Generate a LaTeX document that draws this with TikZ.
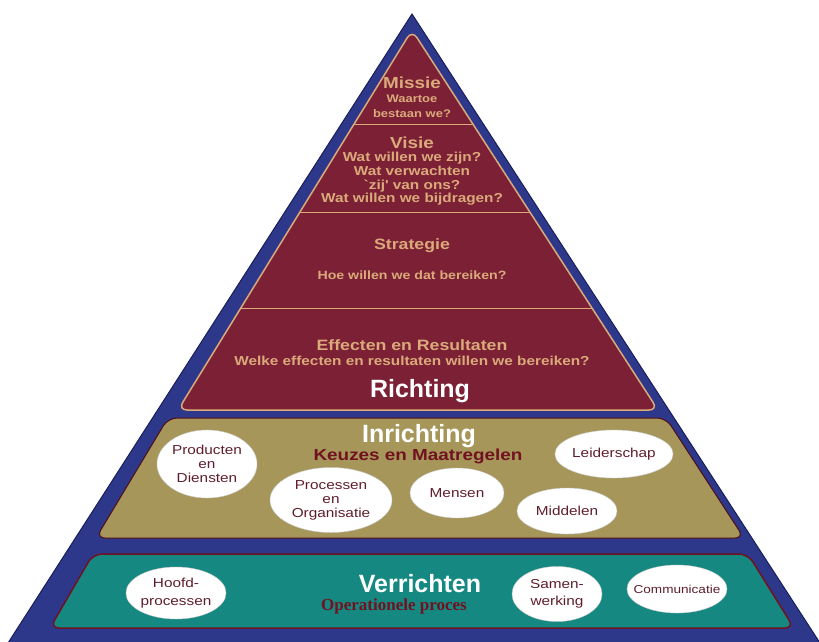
\documentclass[tikz,border=0pt]{standalone}
\usepackage{fontspec}
\setmainfont{Liberation Sans}
\newfontfamily\widesans[FakeStretch=1.18]{Liberation Sans}
\newfontfamily\procesfont{Liberation Serif}
\usetikzlibrary{shapes.geometric}

\definecolor{pyrblue}{RGB}{46,56,138}
\definecolor{pyredge}{RGB}{24,30,88}
\definecolor{richtingred}{RGB}{124,32,54}
\definecolor{tanline}{RGB}{218,170,122}
\definecolor{inrichtingtan}{RGB}{166,150,90}
\definecolor{verrichtenteal}{RGB}{22,136,130}
\definecolor{darkred}{RGB}{112,18,32}
\definecolor{bubbletext}{RGB}{95,30,45}

\begin{document}
\begin{tikzpicture}[x=1pt, y=-1pt,
    layer/.style={rounded corners=9pt, line width=1.5pt},
    head/.style={text=white, font=\bfseries\fontsize{25}{28}\selectfont},
    title/.style={text=tanline, font=\widesans\bfseries\fontsize{15}{17}\selectfont},
    question/.style={text=tanline, font=\widesans\bfseries\fontsize{13}{13.7}\selectfont,
        align=center},
    sub/.style={text=darkred, font=\widesans\bfseries\fontsize{16}{18}\selectfont},
    bubble/.style={ellipse, fill=white, draw=white!80!black, thin,
        text=bubbletext, font=\widesans\fontsize{13}{14}\selectfont,
        align=center, inner sep=0pt}
]
    \useasboundingbox (0,0) rectangle (819,641);
    % outer pyramid
    \filldraw[pyrblue, draw=pyredge, line width=1pt]
        (412,14) -- (820,643) -- (8,643) -- cycle;
    % Richting
    \filldraw[layer, fill=richtingred, draw=tanline]
        (412,30) -- (658,410) -- (178,410) -- cycle;
    \draw[tanline, thick] (354,124) -- (473,124);
    \draw[tanline, thick] (300,212) -- (530,212);
    \draw[tanline, thick] (241,308) -- (592,308);
    % Inrichting
    \filldraw[layer, fill=inrichtingtan, draw=darkred!70!black, line width=1pt]
        (168,418) -- (666,418) -- (744,538) -- (96,538) -- cycle;
    % Verrichten
    \filldraw[layer, fill=verrichtenteal, draw=darkred]
        (93,554) -- (748,554) -- (794,628) -- (50,628) -- cycle;

    \node[title, font=\widesans\bfseries\fontsize{16}{17}\selectfont]
        (missie) at (412,83) {Missie};
    \node[question, font=\widesans\bfseries\fontsize{11}{15}\selectfont]
        (missieq) at (412,106) {Waartoe\\bestaan we?};
    \node[title, font=\widesans\bfseries\fontsize{16}{17}\selectfont]
        (visie) at (412,143) {Visie};
    \node[question] (visieq) at (412,179) {Wat willen we zijn?\\Wat verwachten\\
        `zij' van ons?\\Wat willen we bijdragen?};
    \node[title] (strategie) at (412,246) {Strategie};
    \node[question, font=\widesans\bfseries\fontsize{12}{14}\selectfont]
        (strategieq) at (412,275) {Hoe willen we dat bereiken?};
    \node[title] (effecten) at (412,345) {Effecten en Resultaten};
    \node[question] (effectenq) at (412,361)
        {Welke effecten en resultaten willen we bereiken?};
    \node[head] (richting) at (420,391) {Richting};

    \node[head] (inrichting) at (419,436) {Inrichting};
    \node[sub] (keuzes) at (418,456) {Keuzes en Maatregelen};
    \node[bubble, minimum width=100pt, minimum height=68pt] (producten)
        at (207,464) {Producten\\en\\Diensten};
    \node[bubble, minimum width=122pt, minimum height=65pt] (processen)
        at (331,500) {Processen\\en\\Organisatie};
    \node[bubble, minimum width=94pt, minimum height=50pt] (mensen)
        at (457,493) {Mensen};
    \node[bubble, minimum width=100pt, minimum height=46pt] (middelen)
        at (567,511) {Middelen};
    \node[bubble, minimum width=112pt, minimum height=48pt] (leiderschap)
        at (614,454) {Leiderschap};

    \node[head] (verrichten) at (420,584) {Verrichten};
    \node[sub, font=\procesfont\bfseries\fontsize{17}{18}\selectfont]
        (operationeel) at (394,606) {Operationele proces};
    \node[bubble, minimum width=92pt, minimum height=52pt,
        font=\widesans\fontsize{13}{18}\selectfont] (hoofd)
        at (176,593) {Hoofd-\\processen};
    \node[bubble, minimum width=90pt, minimum height=55pt,
        font=\widesans\fontsize{13}{16.5}\selectfont] (samen)
        at (557,594) {Samen-\\werking};
    \node[bubble, minimum width=98pt, minimum height=48pt, inner xsep=-8pt,
        font=\widesans\fontsize{11.5}{13}\selectfont] (communicatie)
        at (677,589) {Communicatie};
\end{tikzpicture}
\end{document}
